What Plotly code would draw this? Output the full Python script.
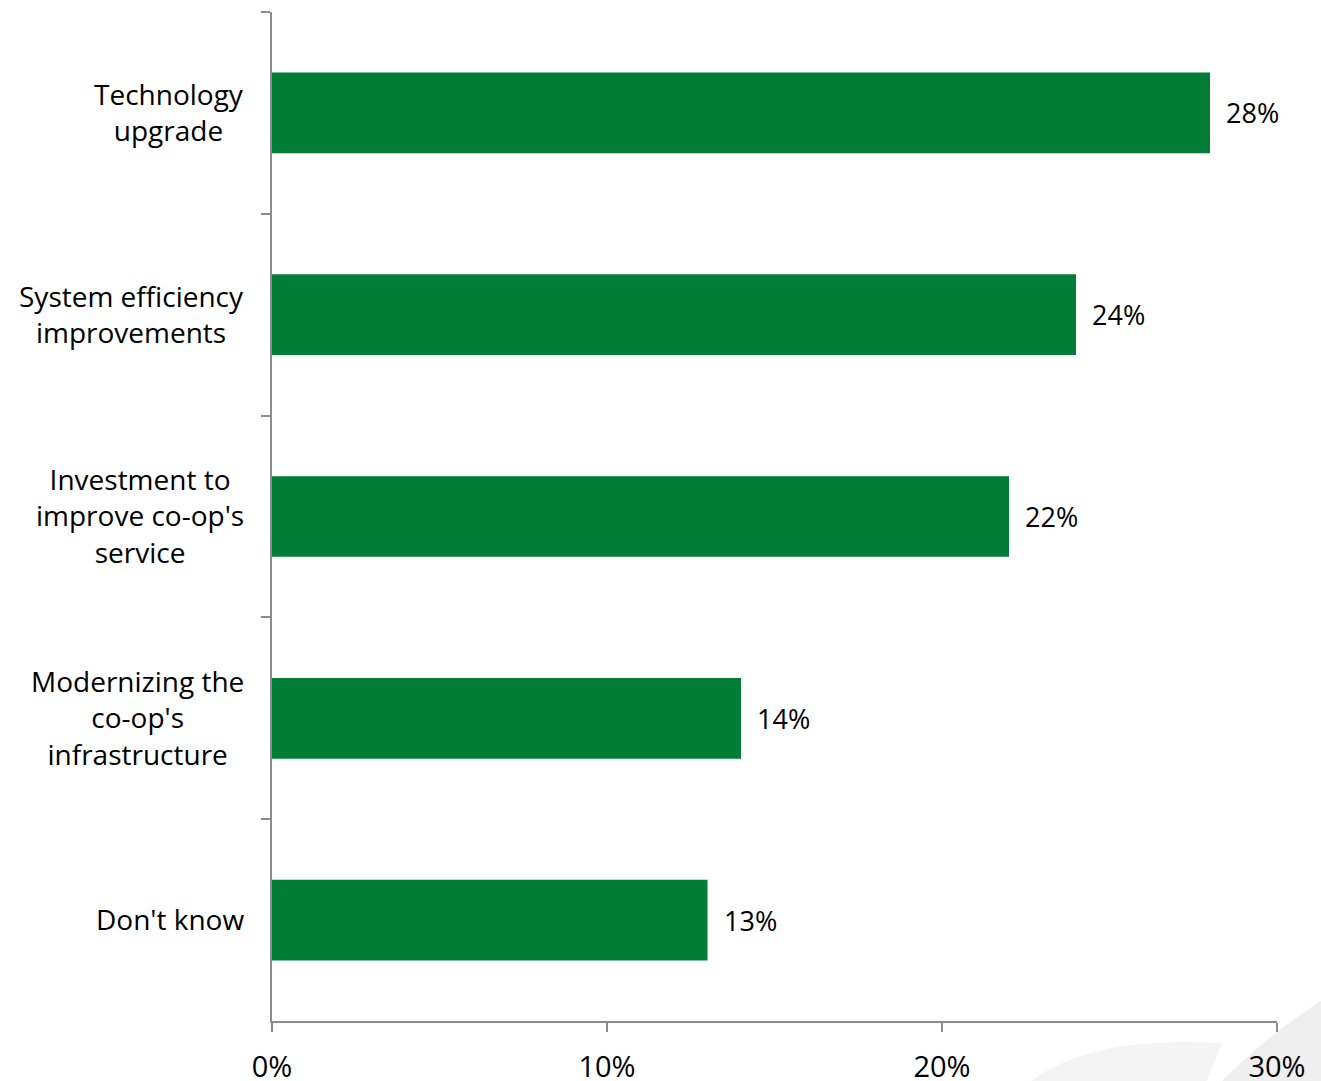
import plotly.graph_objects as go

# Survey answers, listed top to bottom
categories = [
    "Technology<br>upgrade",
    "System efficiency<br>improvements",
    "Investment to<br>improve co-op's<br>service",
    "Modernizing the<br>co-op's<br>infrastructure",
    "Don't know",
]
shares = [28, 24, 22, 14, 13]
x_ticks = [0, 10, 20, 30]
x_tick_labels = ["0%", "10%", "20%", "30%"]

bar_color = "#017D36"
axis_color = "#8C8C8C"
font_family = "Open Sans, Liberation Sans, Arial, sans-serif"

fig = go.Figure()
fig.add_trace(go.Bar(
    x=shares,
    y=categories,
    orientation="h",
    marker=dict(color=bar_color, line=dict(width=0)),
    width=0.4,
    hoverinfo="skip",
))

# Value labels placed just past each bar end
for cat, val in zip(categories, shares):
    fig.add_annotation(
        x=val, y=cat, text=f"{val}%", showarrow=False,
        xanchor="left", xshift=14, yshift=0,
        font=dict(family=font_family, size=27, color="#000000"),
    )

# Category names, centred text block to the left of the axis
for cat in categories:
    fig.add_annotation(
        x=0, xref="paper", y=cat, text=cat, showarrow=False,
        xanchor="right", align="center", xshift=-26, yshift=1,
        font=dict(family=font_family, size=28, color="#000000"),
    )

# Faint grey swoosh in the lower-right corner of the page
fig.add_shape(
    type="path", xref="paper", yref="paper", layer="below",
    path="M 0.755 -0.06 C 0.80 -0.025, 0.87 -0.018, 0.945 -0.022 L 0.93 -0.06 Z",
    fillcolor="#F4F4F4", line=dict(width=0),
)
fig.add_shape(
    type="path", xref="paper", yref="paper", layer="below",
    path="M 0.945 -0.06 C 0.975 -0.03, 1.005 -0.005, 1.044 0.02 L 1.044 -0.06 Z",
    fillcolor="#EFEFEF", line=dict(width=0),
)

fig.update_layout(
    width=1321, height=1081,
    margin=dict(l=272, r=44, t=12, b=60),
    paper_bgcolor="white", plot_bgcolor="white",
    showlegend=False,
    bargap=0.6,
    font=dict(family=font_family, color="#000000"),
    xaxis=dict(
        range=[0, 30], tickvals=x_ticks, ticktext=x_tick_labels,
        showgrid=False, zeroline=False,
        showline=True, linecolor=axis_color, linewidth=2,
        ticks="outside", ticklen=9, tickwidth=2, tickcolor=axis_color,
        tickfont=dict(size=29, family=font_family, color="#000000"),
        ticklabelstandoff=10,
        automargin=False,
        fixedrange=True,
    ),
    yaxis=dict(
        autorange="reversed", type="category",
        showgrid=False, zeroline=False,
        showline=True, linecolor=axis_color, linewidth=2,
        ticks="outside", ticklen=9, tickwidth=2, tickcolor=axis_color,
        tickson="boundaries",
        showticklabels=False,
        automargin=False,
        fixedrange=True,
    ),
)

fig.write_html("out.html")
